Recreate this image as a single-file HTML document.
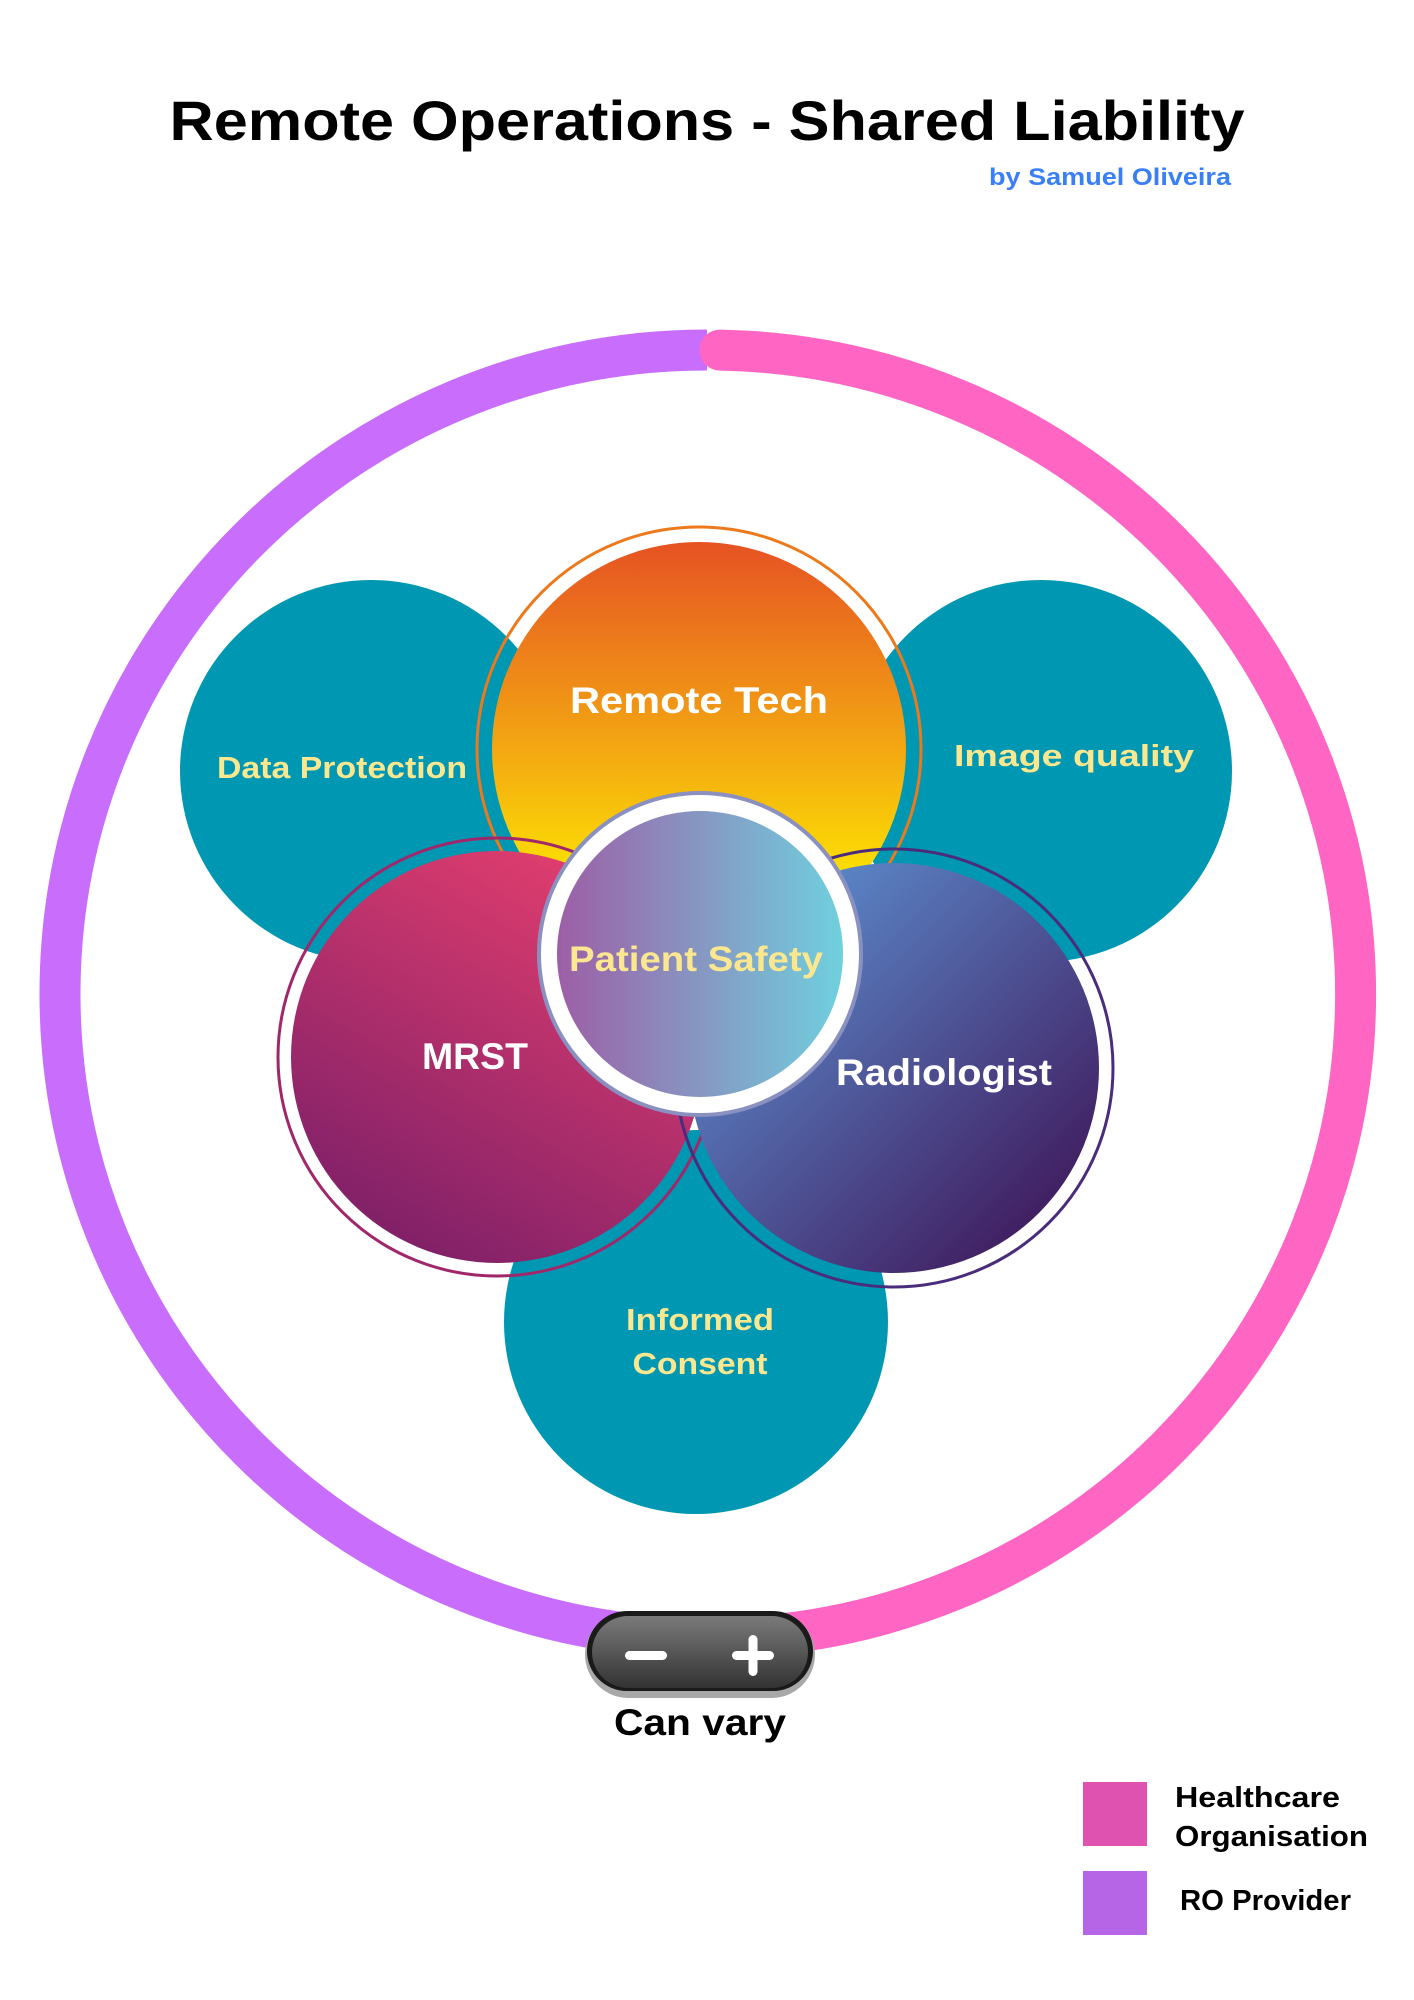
<!DOCTYPE html>
<html><head><meta charset="utf-8"><style>html,body{margin:0;padding:0;background:#fff}svg{display:block}</style></head>
<body>
<svg width="1414" height="2000" viewBox="0 0 1414 2000" xmlns="http://www.w3.org/2000/svg" font-family="'Liberation Sans', sans-serif" font-weight="bold">
<defs>
<linearGradient id="gRT" x1="0" y1="0" x2="0" y2="1"><stop offset="0" stop-color="#e65223"/><stop offset="0.5" stop-color="#f3a712"/><stop offset="0.85" stop-color="#fde800"/></linearGradient>
<linearGradient id="gMR" x1="0.8" y1="0.05" x2="0.25" y2="1"><stop offset="0" stop-color="#e33e6e"/><stop offset="1" stop-color="#7c1f68"/></linearGradient>
<linearGradient id="gRA" x1="0.1" y1="0.2" x2="0.85" y2="0.95"><stop offset="0" stop-color="#5b8acb"/><stop offset="1" stop-color="#3f195c"/></linearGradient>
<linearGradient id="gPS" x1="0" y1="0" x2="1" y2="0"><stop offset="0" stop-color="#9d5ea6"/><stop offset="1" stop-color="#6fd0de"/></linearGradient>
<linearGradient id="gPill" x1="0" y1="0" x2="0" y2="1"><stop offset="0" stop-color="#7a7a7a"/><stop offset="1" stop-color="#333"/></linearGradient>
</defs>

<text x="707" y="140" text-anchor="middle" font-size="56" fill="#000" textLength="1075" lengthAdjust="spacingAndGlyphs">Remote Operations - Shared Liability</text>
<text x="1231" y="185" text-anchor="end" font-size="24" fill="#3b7ff5" textLength="242" lengthAdjust="spacingAndGlyphs">by Samuel Oliveira</text>

<!-- outer ring -->
<path d="M707 350 A647 644 0 0 0 707 1638" fill="none" stroke="#c86dfc" stroke-width="41"/>
<path d="M720 350.1 A647 644 0 0 1 720 1637.9" fill="none" stroke="#ff66c4" stroke-width="41" stroke-linecap="round"/>

<!-- teal circles -->
<circle cx="371" cy="771" r="191" fill="#0097b2"/>
<circle cx="1041" cy="771" r="191" fill="#0097b2"/>
<circle cx="696" cy="1322" r="192" fill="#0097b2"/>

<!-- Remote Tech -->
<circle cx="699" cy="749" r="222" fill="none" stroke="#ec7a1c" stroke-width="3"/>
<circle cx="699" cy="749" r="207" fill="url(#gRT)"/>
<!-- MRST -->
<circle cx="497" cy="1057" r="219" fill="none" stroke="#a0286a" stroke-width="3"/>
<circle cx="497" cy="1057" r="206" fill="url(#gMR)"/>
<!-- Radiologist -->
<circle cx="894" cy="1068" r="219" fill="none" stroke="#4a2c7c" stroke-width="3"/>
<circle cx="894" cy="1068" r="205" fill="url(#gRA)"/>
<!-- Patient Safety -->
<circle cx="700" cy="954" r="161" fill="#fff" stroke="#8a90c0" stroke-width="4"/>
<circle cx="700" cy="954" r="143" fill="url(#gPS)"/>

<text x="699" y="713" text-anchor="middle" font-size="37" fill="#fff" textLength="258" lengthAdjust="spacingAndGlyphs">Remote Tech</text>
<text x="342" y="778" text-anchor="middle" font-size="31" fill="#fbe78f" textLength="250" lengthAdjust="spacingAndGlyphs">Data Protection</text>
<text x="1074" y="766" text-anchor="middle" font-size="31" fill="#fbe78f" textLength="240" lengthAdjust="spacingAndGlyphs">Image quality</text>
<text x="700" y="1330" text-anchor="middle" font-size="31" fill="#fbe78f" textLength="148" lengthAdjust="spacingAndGlyphs">Informed</text>
<text x="700" y="1374" text-anchor="middle" font-size="31" fill="#fbe78f" textLength="135" lengthAdjust="spacingAndGlyphs">Consent</text>
<text x="475" y="1069" text-anchor="middle" font-size="37" fill="#fff" textLength="106" lengthAdjust="spacingAndGlyphs">MRST</text>
<text x="944" y="1085" text-anchor="middle" font-size="37" fill="#fff" textLength="216" lengthAdjust="spacingAndGlyphs">Radiologist</text>
<text x="696" y="971" text-anchor="middle" font-size="35" fill="#fbe78f" textLength="254" lengthAdjust="spacingAndGlyphs">Patient Safety</text>

<!-- pill -->
<rect x="585" y="1611" width="230" height="87" rx="43.5" fill="#a8a8a8"/>
<rect x="587" y="1611" width="226" height="80" rx="40" fill="#1a1a1a"/>
<rect x="592" y="1616" width="216" height="72" rx="36" fill="url(#gPill)"/>
<rect x="625" y="1651" width="42" height="9" rx="4.5" fill="#fff"/>
<rect x="732" y="1651" width="42" height="9" rx="4.5" fill="#fff"/>
<rect x="748.5" y="1635" width="9" height="41" rx="4.5" fill="#fff"/>
<text x="700" y="1735" text-anchor="middle" font-size="37" fill="#000" textLength="172" lengthAdjust="spacingAndGlyphs">Can vary</text>

<!-- legend -->
<rect x="1083" y="1782" width="64" height="64" fill="#e052b0"/>
<rect x="1083" y="1871" width="64" height="64" fill="#b665e6"/>
<text x="1175" y="1807" font-size="29" fill="#000" textLength="165" lengthAdjust="spacingAndGlyphs">Healthcare</text>
<text x="1175" y="1846" font-size="29" fill="#000" textLength="193" lengthAdjust="spacingAndGlyphs">Organisation</text>
<text x="1180" y="1910" font-size="29" fill="#000" textLength="171" lengthAdjust="spacingAndGlyphs">RO Provider</text>
</svg>
</body></html>
